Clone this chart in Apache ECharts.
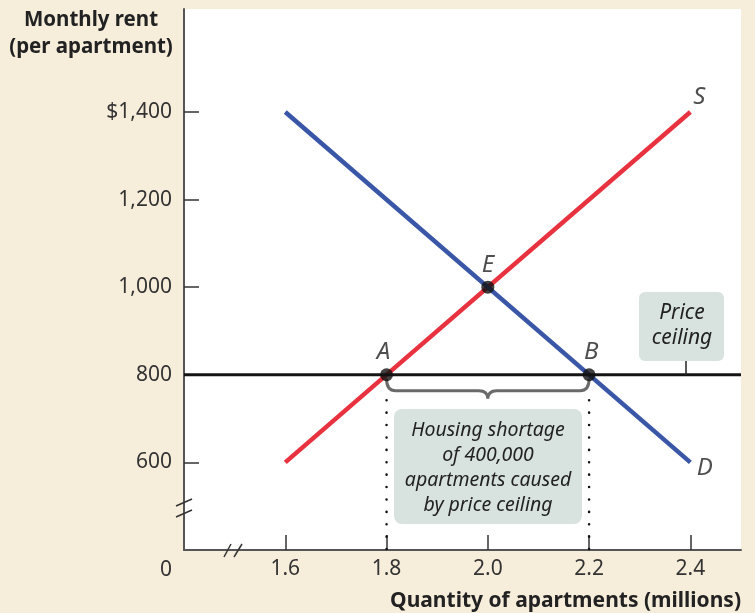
<!DOCTYPE html>
<html><head><meta charset="utf-8">
<script src="https://cdn.jsdelivr.net/npm/echarts@6/dist/echarts.min.js"></script>
<style>html,body{margin:0;padding:0;background:#f6eddb;}#c{width:755px;height:613px;}</style>
</head><body><div id="c"></div>
<script>
const xTicks = [1.6, 1.8, 2.0, 2.2, 2.4];
const yTicks = [600, 800, 1000, 1200, 1400];
const supply = [[1.6, 600], [2.4, 1400]];
const demand = [[1.6, 1400], [2.4, 600]];
const ceilingPrice = 800;
const ceilingLine = [[1.4, 800], [2.5, 800]];
const pointNames = ['A', 'B', 'E'];
const pointValues = [[1.8, 800], [2.2, 800], [2.0, 1000]];
const curveNames = ['S', 'D'];
const shortageFrom = 1.8, shortageTo = 2.2;

const FONT = '"Noto Sans", sans-serif';
const chart = echarts.init(document.getElementById('c'), null, {renderer: 'canvas'});

const pointOffsets = {A: [-3, 0], B: [2, 0], E: [0, 0]};
const curveLabelPos = {S: {position: 'top', distance: 2, offset: [9, 0]}, D: {position: 'right', distance: 6, offset: [0, 6]}};

function txt(x, y, text, size, opts) {
  return Object.assign({type: 'text', z: 6, style: Object.assign({
    x: x, y: y, text: text, align: 'center', verticalAlign: 'middle',
    fontSize: size, fontFamily: FONT, fill: '#222'
  }, opts || {})});
}

const curveEnds = [supply[supply.length - 1], demand[demand.length - 1]];

chart.setOption({
  backgroundColor: '#f6eddb',
  animation: false,
  grid: {left: 184, right: 14, top: 9, bottom: 63, show: true, backgroundColor: '#ffffff', borderWidth: 0},
  xAxis: {
    type: 'value', min: 1.4, max: 2.5,
    axisLine: {lineStyle: {color: '#555', width: 2}},
    axisTick: {customValues: xTicks, inside: true, length: 15, lineStyle: {color: '#333', width: 1.5}},
    axisLabel: {customValues: xTicks, formatter: v => v.toFixed(1), fontSize: 21, color: '#333', margin: 9, fontFamily: FONT},
    splitLine: {show: false}
  },
  yAxis: {
    type: 'value', min: 400, max: 1635,
    axisLine: {show: true, lineStyle: {color: '#555', width: 2}},
    axisTick: {show: true, customValues: yTicks, inside: true, length: 15, lineStyle: {color: '#333', width: 1.5}},
    axisLabel: {customValues: yTicks, formatter: v => (v === 1400 ? '$' : '') + v.toLocaleString('en-US'), fontSize: 21, color: '#333', margin: 12, fontFamily: FONT},
    splitLine: {show: false}
  },
  series: [
    {type: 'line', data: supply, symbol: 'none', lineStyle: {color: '#e8323f', width: 4.5}, z: 3},
    {type: 'line', data: demand, symbol: 'none', lineStyle: {color: '#3a56a6', width: 4.5}, z: 3},
    {type: 'line', data: ceilingLine, symbol: 'none', lineStyle: {color: '#151515', width: 3}, z: 4, silent: true},
    {type: 'line', data: [[shortageFrom, ceilingPrice - 58], [shortageFrom, 400], null, [shortageTo, ceilingPrice - 58], [shortageTo, 400]],
     connectNulls: false, symbol: 'none', lineStyle: {color: '#111', width: 2.5, type: [0.1, 12.3], cap: 'round'}, z: 2},
    {type: 'custom', data: [[shortageFrom, shortageTo, ceilingPrice]], z: 3,
     renderItem: function (params, api) {
       const a = api.coord([api.value(0), api.value(2)]);
       const b = api.coord([api.value(1), api.value(2)]);
       const mx = (a[0] + b[0]) / 2, y0 = a[1] + 4, y1 = a[1] + 16, y2 = a[1] + 24, r = 9;
       const d = `M${a[0]},${y0} Q${a[0]},${y1} ${a[0] + r},${y1} L${mx - r},${y1} Q${mx},${y1} ${mx},${y2} Q${mx},${y1} ${mx + r},${y1} L${b[0] - r},${y1} Q${b[0]},${y1} ${b[0]},${y0}`;
       return {type: 'path', shape: {pathData: d}, style: {stroke: '#6a6a6a', lineWidth: 3, fill: null}};
     }},
    {type: 'scatter', data: curveEnds.map((v, i) => ({name: curveNames[i], value: v, label: curveLabelPos[curveNames[i]]})),
     symbolSize: 1, itemStyle: {color: 'rgba(0,0,0,0)'}, z: 6, silent: true,
     label: {show: true, formatter: p => p.name, fontSize: 24, fontStyle: 'italic', color: '#222', fontFamily: FONT}},
    {type: 'scatter', data: pointValues.map((v, i) => ({name: pointNames[i], value: v, label: {offset: pointOffsets[pointNames[i]]}})),
     symbolSize: 13, itemStyle: {color: '#111'}, z: 6,
     label: {show: true, formatter: p => p.name, position: 'top', distance: 4, fontSize: 24, fontStyle: 'italic', color: '#222', fontFamily: FONT}}
  ],
  graphic: [
    txt(91, 20, 'Monthly rent', 20.5, {fontWeight: 'bold'}),
    txt(91, 47, '(per apartment)', 20.5, {fontWeight: 'bold'}),
    txt(741, 601, 'Quantity of apartments (millions)', 21, {fontWeight: 'bold', align: 'right'}),
    txt(166, 570, '0', 21, {fill: '#333'}),
    // axis break marks
    {type: 'line', shape: {x1: 176, y1: 506, x2: 192, y2: 499}, style: {stroke: '#333', lineWidth: 1.5}, z: 10},
    {type: 'line', shape: {x1: 176, y1: 517, x2: 192, y2: 510}, style: {stroke: '#333', lineWidth: 1.5}, z: 10},
    {type: 'line', shape: {x1: 224, y1: 557, x2: 231, y2: 544}, style: {stroke: '#333', lineWidth: 1.5}, z: 10},
    {type: 'line', shape: {x1: 234, y1: 557, x2: 242, y2: 544}, style: {stroke: '#333', lineWidth: 1.5}, z: 10},
    // price ceiling box
    {type: 'line', shape: {x1: 686, y1: 360, x2: 686, y2: 375}, style: {stroke: '#222', lineWidth: 1.5}, z: 5},
    {type: 'rect', shape: {x: 639, y: 292, width: 85, height: 69, r: 6}, style: {fill: '#d8e3df'}, z: 5},
    txt(682, 313, 'Price', 21, {fontStyle: 'italic'}),
    txt(682, 338, 'ceiling', 21, {fontStyle: 'italic'}),
    // shortage box
    {type: 'rect', shape: {x: 394, y: 409, width: 188, height: 115, r: 8}, style: {fill: '#d8e3df'}, z: 5},
    txt(488, 430, 'Housing shortage', 19.5, {fontStyle: 'italic'}),
    txt(488, 455, 'of 400,000', 19.5, {fontStyle: 'italic'}),
    txt(488, 480, 'apartments caused', 19.5, {fontStyle: 'italic'}),
    txt(488, 505, 'by price ceiling', 19.5, {fontStyle: 'italic'})
  ]
});
</script></body></html>
